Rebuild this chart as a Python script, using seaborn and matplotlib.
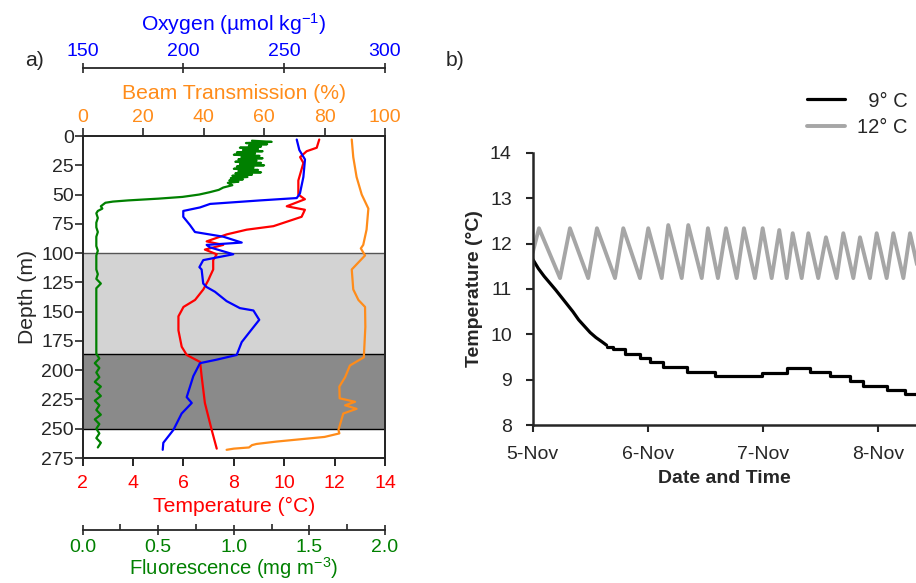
import numpy as np
import pandas as pd
import matplotlib
matplotlib.use('Agg')
import matplotlib.pyplot as plt
import seaborn as sns
from matplotlib.ticker import MultipleLocator

# ─── Panel a: CTD profile ─────────────────────────────────────────────────────
temp_depth = [3, 10, 13, 18, 23, 38, 50, 54, 60, 63, 69, 77, 80, 84, 90, 93,
              97, 101, 106, 114, 120, 123, 131, 140, 146, 154, 166, 180, 187,
              193, 205, 228, 251, 267]
temp_vals = [11.39, 11.29, 10.89, 10.63, 10.76, 10.56, 10.56, 10.82, 10.10,
             10.82, 10.69, 9.57, 8.51, 7.72, 6.92, 7.58, 6.85, 7.32, 7.18,
             7.18, 7.05, 6.99, 6.79, 6.46, 6.00, 5.80, 5.80, 5.93, 6.13, 6.66,
             6.72, 6.85, 7.12, 7.32]

oxy_depth = [3, 12, 20, 35, 49, 53, 55, 58, 61, 64, 69, 76, 82, 86, 91, 93,
             95, 101, 106, 112, 114, 126, 129, 133, 141, 147, 149, 157, 167,
             176, 187, 191, 194, 205, 223, 228, 237, 251, 262, 268]
oxy_vals = [256.2, 257.5, 260.3, 259.5, 257.8, 256.2, 238.0, 213.2, 208.2,
            199.9, 199.9, 203.2, 205.7, 219.8, 228.9, 211.5, 213.0, 224.7,
            209.8, 207.9, 209.0, 209.8, 211.5, 215.6, 221.4, 228.0, 234.7,
            237.6, 233.0, 228.9, 226.4, 216.5, 208.2, 204.9, 201.6, 204.1,
            199.1, 195.0, 190.0, 189.7]

beam_depth = [3, 18, 35, 50, 62, 80, 93, 96, 102, 114, 131, 140, 146, 163,
              189, 196, 206, 214, 224, 227, 230, 233, 237, 251, 254, 257, 259,
              261, 263, 264, 266, 267, 268]
beam_vals = [89.0, 89.5, 90.6, 92.3, 94.5, 93.9, 92.8, 92.0, 93.4, 89.0, 89.5,
             91.2, 93.4, 93.5, 93.0, 88.4, 86.8, 84.9, 85.0, 90.1, 86.8, 90.6,
             86.2, 84.6, 84.9, 80.0, 72.0, 64.0, 57.5, 56.0, 55.0, 50.0, 47.6]

fl_depth = [4, 5, 6, 7, 8, 9, 10, 11, 12, 13, 14, 15, 16, 17, 18, 19, 20, 21,
            22, 23, 24, 25, 26, 27, 28, 29, 30, 31, 32, 33, 34, 35, 36, 37, 38,
            39, 40, 42, 44, 46, 48, 50, 52, 53.5, 55, 56, 57, 58, 60, 62, 64,
            66, 70, 74, 78, 82, 86, 90, 94, 98, 102, 106, 110, 114, 118, 122,
            126, 130, 134, 138, 142, 146, 150, 154, 158, 162, 166, 170, 174,
            178, 182, 186, 190, 194, 198, 202, 206, 210, 214, 218, 222, 226,
            230, 234, 238, 242, 246, 250, 254, 258, 262, 266]
fl_vals = [1.12, 1.25, 1.08, 1.22, 1.10, 1.18, 1.04, 1.16, 1.06, 1.19, 1.02,
           1.14, 1.00, 1.17, 1.05, 1.19, 1.03, 1.15, 1.01, 1.18, 1.04, 1.20,
           1.02, 1.13, 1.00, 1.16, 1.03, 1.18, 1.01, 1.12, 0.99, 1.09, 0.98,
           1.06, 0.97, 1.03, 0.96, 0.99, 0.93, 0.90, 0.84, 0.77, 0.66, 0.50,
           0.30, 0.20, 0.15, 0.14, 0.12, 0.13, 0.10,
           0.09, 0.10, 0.09, 0.09, 0.10, 0.09, 0.09, 0.09, 0.10, 0.09, 0.09,
           0.09, 0.09, 0.10, 0.09, 0.12, 0.09, 0.09, 0.09, 0.09, 0.09, 0.09,
           0.09, 0.09, 0.09, 0.09, 0.09, 0.09, 0.09, 0.09, 0.09, 0.11, 0.08,
           0.11, 0.09, 0.11, 0.08, 0.12, 0.09, 0.12, 0.08, 0.11, 0.09, 0.12,
           0.08, 0.11, 0.09, 0.11, 0.09, 0.12, 0.10]

depth_ticks = list(range(0, 276, 25))
temp_ticks = [2, 4, 6, 8, 10, 12, 14]
beam_ticks = [0, 20, 40, 60, 80, 100]
oxy_ticks = [150, 200, 250, 300]
fl_ticks = [0.0, 0.5, 1.0, 1.5, 2.0]

# ─── Panel b: incubation temperature ──────────────────────────────────────────
# cooling from the start (smooth part) and the later logged steps
t9_cool = [0.00, 0.05, 0.10, 0.15, 0.20, 0.25, 0.30, 0.35, 0.40, 0.45, 0.50,
           0.55, 0.60, 0.643]
temp9_cool = [11.66, 11.45, 11.28, 11.13, 10.98, 10.82, 10.66, 10.50, 10.32,
              10.18, 10.04, 9.93, 9.84, 9.76]
t9_step = [0.643, 0.70, 0.80, 0.933, 1.02, 1.136, 1.339, 1.585, 1.99, 2.209,
           2.411, 2.585, 2.759, 2.875, 3.078, 3.237, 3.40]
temp9_step = [9.73, 9.67, 9.57, 9.47, 9.38, 9.27, 9.18, 9.08, 9.15, 9.25,
              9.18, 9.08, 8.96, 8.86, 8.77, 8.68, 8.68]

t12 = [0.000, 0.055, 0.238, 0.324, 0.483, 0.559, 0.716, 0.788, 0.933, 1.005,
       1.122, 1.179, 1.296, 1.353, 1.470, 1.524, 1.611, 1.681, 1.774, 1.837,
       1.933, 2.000, 2.078, 2.144, 2.209, 2.261, 2.339, 2.397, 2.483, 2.550,
       2.643, 2.701, 2.788, 2.846, 2.933, 2.991, 3.078, 3.136, 3.223, 3.281,
       3.368]
temp12 = [11.80, 12.34, 11.24, 12.34, 11.24, 12.34, 11.24, 12.34, 11.24, 12.34,
          11.24, 12.41, 11.24, 12.41, 11.24, 12.34, 11.24, 12.34, 11.24, 12.34,
          11.24, 12.34, 11.24, 12.30, 11.24, 12.23, 11.24, 12.23, 11.24, 12.14,
          11.24, 12.23, 11.24, 12.14, 11.24, 12.23, 11.24, 12.23, 11.24, 12.23,
          11.24]

day_ticks = [0, 1, 2, 3]
day_labels = ['5-Nov', '6-Nov', '7-Nov', '8-Nov']
tb_ticks = [8, 9, 10, 11, 12, 13, 14]

# ─── Style ────────────────────────────────────────────────────────────────────
sns.set_theme(style='ticks')
plt.rcParams['font.family'] = ['Liberation Sans', 'DejaVu Sans']
plt.rcParams['mathtext.default'] = 'regular'
plt.rcParams['axes.linewidth'] = 1.3

RED, BLUE, ORANGE, GREEN = '#ff0000', '#0000ff', '#ff8c1a', '#008000'
FS = 14      # tick labels
FT = 15.2    # axis titles

fig = plt.figure(figsize=(9.16, 5.83), dpi=100)

# ─── Panel a ──────────────────────────────────────────────────────────────────
ax = fig.add_axes([0.0903, 0.2144, 0.3300, 0.5523])
ax.axhspan(100, 186, color='#d3d3d3', zorder=0, lw=0)
ax.axhspan(186, 250, color='#8a8a8a', zorder=0, lw=0)
ax.axhline(100, color='#555555', lw=1.0, zorder=0.5)
ax.axhline(186, color='black', lw=1.0, zorder=0.5)
ax.axhline(250, color='black', lw=1.0, zorder=0.5)

sns.lineplot(x=temp_vals, y=temp_depth, sort=False, estimator=None,
             orient='y', color=RED, lw=1.6, ax=ax)
ax.set_xlim(2, 14)
ax.set_ylim(275, 0)
ax.set_xticks(temp_ticks)
ax.set_yticks(depth_ticks)
ax.set_ylabel('Depth (m)', fontsize=FT, labelpad=3)
ax.set_xlabel('Temperature (°C)', fontsize=FT, color=RED, labelpad=3)
ax.tick_params(axis='x', colors=RED, labelsize=FS, direction='out',
               length=5.5, width=1.2, pad=7)
ax.tick_params(axis='x', color='black')
ax.tick_params(axis='y', labelsize=FS, direction='out', length=5.5,
               width=1.2, pad=1)

ax_beam = ax.twiny()
sns.lineplot(x=beam_vals, y=beam_depth, sort=False, estimator=None,
             orient='y', color=ORANGE, lw=1.6, ax=ax_beam)
ax_beam.set_xlim(0, 100)
ax_beam.set_xticks(beam_ticks)
ax_beam.set_xlabel('Beam Transmission (%)', fontsize=FT, color=ORANGE,
                   labelpad=7)
ax_beam.tick_params(axis='x', labelcolor=ORANGE, labelsize=FS,
                    direction='out', length=5.5, width=1.2, pad=2)

ax_oxy = ax.twiny()
sns.lineplot(x=oxy_vals, y=oxy_depth, sort=False, estimator=None,
             orient='y', color=BLUE, lw=1.6, ax=ax_oxy)
ax_oxy.set_xlim(150, 300)
ax_oxy.set_xticks(oxy_ticks)
for s in ['left', 'right', 'bottom']:
    ax_oxy.spines[s].set_visible(False)
ax_oxy.spines['top'].set_position(('outward', 49))
ax_oxy.set_xlabel('Oxygen (µmol kg$^{-1}$)', fontsize=FT, color=BLUE,
                  labelpad=9)
ax_oxy.tick_params(axis='x', labelcolor=BLUE, labelsize=FS,
                   direction='inout', length=7, width=1.2, pad=2)

ax_fl = ax.twiny()
sns.lineplot(x=fl_vals, y=fl_depth, sort=False, estimator=None,
             orient='y', color=GREEN, lw=1.6, ax=ax_fl)
ax_fl.set_xlim(0, 2)
ax_fl.xaxis.set_ticks_position('bottom')
ax_fl.xaxis.set_label_position('bottom')
for s in ['left', 'right', 'top']:
    ax_fl.spines[s].set_visible(False)
ax_fl.spines['bottom'].set_position(('outward', 51.5))
ax_fl.set_xticks(fl_ticks)
ax_fl.xaxis.set_minor_locator(MultipleLocator(0.25))
ax_fl.set_xlabel('Fluorescence (mg m$^{-3}$)', fontsize=14.6, color=GREEN,
                 labelpad=0)
ax_fl.tick_params(axis='x', which='major', labelcolor=GREEN, labelsize=FS,
                  direction='inout', length=7, width=1.2, pad=3)
ax_fl.tick_params(axis='x', which='minor', direction='in', length=4,
                  width=1.2)

# ─── Panel b ──────────────────────────────────────────────────────────────────
bx = fig.add_axes([0.5815, 0.2710, 0.4185, 0.4666])
sns.lineplot(x=t9_cool, y=temp9_cool, sort=False, estimator=None,
             color='black', lw=2.3, ax=bx)
sns.lineplot(x=t9_step, y=temp9_step, sort=False, estimator=None,
             color='black', lw=2.3, drawstyle='steps-post', label='  9° C',
             ax=bx)
sns.lineplot(x=t12, y=temp12, sort=False, estimator=None, color='#a6a6a6',
             lw=2.8, label='12° C', ax=bx)
bx.set_xlim(0, 3.333)
bx.set_ylim(8, 14)
bx.set_xticks(day_ticks)
bx.set_xticklabels(day_labels)
bx.set_yticks(tb_ticks)
sns.despine(ax=bx)
bx.spines['left'].set_linewidth(1.8)
bx.spines['bottom'].set_linewidth(1.8)
bx.tick_params(labelsize=FS, direction='out', length=5, width=1.5)
bx.tick_params(axis='y', pad=10)
bx.tick_params(axis='x', pad=10)
bx.set_xlabel('Date and Time', fontsize=FS, fontweight='bold', labelpad=5)
bx.set_ylabel('Temperature (°C)', fontsize=FS, fontweight='bold', labelpad=5)
bx.legend(loc='upper left', bbox_to_anchor=(0.8807, 0.843),
          bbox_transform=fig.transFigure, frameon=False, fontsize=14.5,
          handlelength=1.9, handletextpad=0.6, labelspacing=0.35,
          borderpad=0, borderaxespad=0)

fig.text(0.038, 0.897, 'a)', fontsize=FT, ha='center', va='center')
fig.text(0.497, 0.897, 'b)', fontsize=FT, ha='center', va='center')

fig.savefig('out.png', dpi=100)
plt.close(fig)
